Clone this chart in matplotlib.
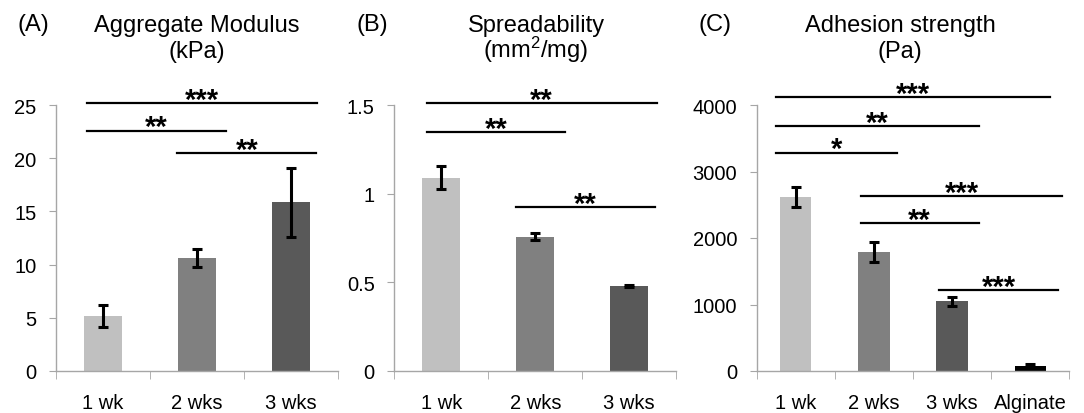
import matplotlib
matplotlib.use("Agg")
import matplotlib.pyplot as plt

plt.rcParams["font.family"] = ["Liberation Sans", "DejaVu Sans"]
plt.rcParams["mathtext.default"] = "regular"

# --- data ---
weeks = ["1 wk", "2 wks", "3 wks"]
weeks_alg = ["1 wk", "2 wks", "3 wks", "Alginate"]

modulus = [5.2, 10.65, 15.85]
modulus_err = [1.05, 0.85, 3.25]

spread = [1.09, 0.758, 0.479]
spread_err = [0.065, 0.02, 0.006]

adhesion = [2615, 1790, 1050, 80]
adhesion_err = [155, 155, 70, 20]

bar_colors = ["#c0c0c0", "#808080", "#595959", "#000000"]

# significance brackets: (x_start, x_end, y, label)
sig_a = [(-0.17, 2.28, 25.2, "***"), (-0.17, 1.31, 22.6, "**"), (0.79, 2.27, 20.5, "**")]
sig_b = [(-0.155, 2.29, 1.513, "**"), (-0.155, 1.32, 1.345, "**"), (0.79, 2.27, 0.926, "**")]
sig_c = [(-0.25, 3.25, 4115, "***"), (-0.25, 2.34, 3690, "**"), (-0.25, 1.29, 3285, "*"),
         (0.83, 3.41, 2626, "***"), (0.83, 2.34, 2219, "**"), (1.83, 3.36, 1212, "***")]

W, H = 1084, 414
fig = plt.figure(figsize=(W / 100, H / 100), dpi=100)


def make_axes(x0, x1, y_top=106, y_bot=372):
    return fig.add_axes([x0 / W, 1 - y_bot / H, (x1 - x0) / W, (y_bot - y_top) / H])


def draw_panel(ax, labels, values, errs, ymax, yticks, ytick_labels, sigs):
    n = len(labels)
    xs = list(range(n))
    ax.bar(xs, values, width=0.4, color=bar_colors[:n], zorder=2)
    ax.errorbar(xs, values, yerr=errs, fmt="none", ecolor="black",
                elinewidth=2.2, capsize=3.5, capthick=2.2, zorder=3)
    ax.set_xlim(-0.5, n - 0.5)
    ax.set_ylim(0, ymax)
    ax.set_yticks(yticks)
    ax.set_yticklabels(ytick_labels)
    ax.set_xticks(xs)
    ax.set_xticklabels(labels)
    ax.set_xticks([i - 0.5 for i in range(n + 1)], minor=True)
    ax.tick_params(axis="x", which="major", length=0, pad=16, labelsize=14.5)
    ax.tick_params(axis="x", which="minor", length=6, color="#a6a6a6", direction="out")
    ax.tick_params(axis="y", length=5, color="#a6a6a6", pad=9, labelsize=14.5)
    for s in ["top", "right"]:
        ax.spines[s].set_visible(False)
    for s in ["left", "bottom"]:
        ax.spines[s].set_color("#a6a6a6")
        ax.spines[s].set_linewidth(1.0)
    for x0, x1, y, lab in sigs:
        ax.plot([x0, x1], [y, y], color="black", lw=1.6, clip_on=False, zorder=4)
        ax.annotate(lab, xy=((x0 + x1) / 2, y), xytext=(0, -3.5), textcoords="offset points",
                    ha="center", va="baseline", fontsize=21, fontweight="bold",
                    annotation_clip=False)


ax_a = make_axes(56, 338)
draw_panel(ax_a, weeks, modulus, modulus_err, 25, [0, 5, 10, 15, 20, 25],
           ["0", "5", "10", "15", "20", "25"], sig_a)

ax_b = make_axes(394.3, 676.3)
draw_panel(ax_b, weeks, spread, spread_err, 1.5, [0, 0.5, 1, 1.5],
           ["0", "0.5", "1", "1.5"], sig_b)

ax_c = make_axes(756.7, 1069.3)
draw_panel(ax_c, weeks_alg, adhesion, adhesion_err, 4000, [0, 1000, 2000, 3000, 4000],
           ["0", "1000", "2000", "3000", "4000"], sig_c)

# titles (two lines each) and panel letters
titles = [(197, "Aggregate Modulus", "(kPa)"), (536, "Spreadability", "(mm$^2$/mg)"),
          (900, "Adhesion strength", "(Pa)")]
for cx, line1, line2 in titles:
    fig.text(cx / W, 1 - 32 / H, line1, ha="center", va="baseline", fontsize=17)
    fig.text(cx / W, 1 - 58 / H, line2, ha="center", va="baseline", fontsize=17)

for cx, t in [(33, "(A)"), (372, "(B)"), (715, "(C)")]:
    fig.text(cx / W, 1 - 31 / H, t, ha="center", va="baseline", fontsize=17)

fig.savefig("out.png", dpi=100)
